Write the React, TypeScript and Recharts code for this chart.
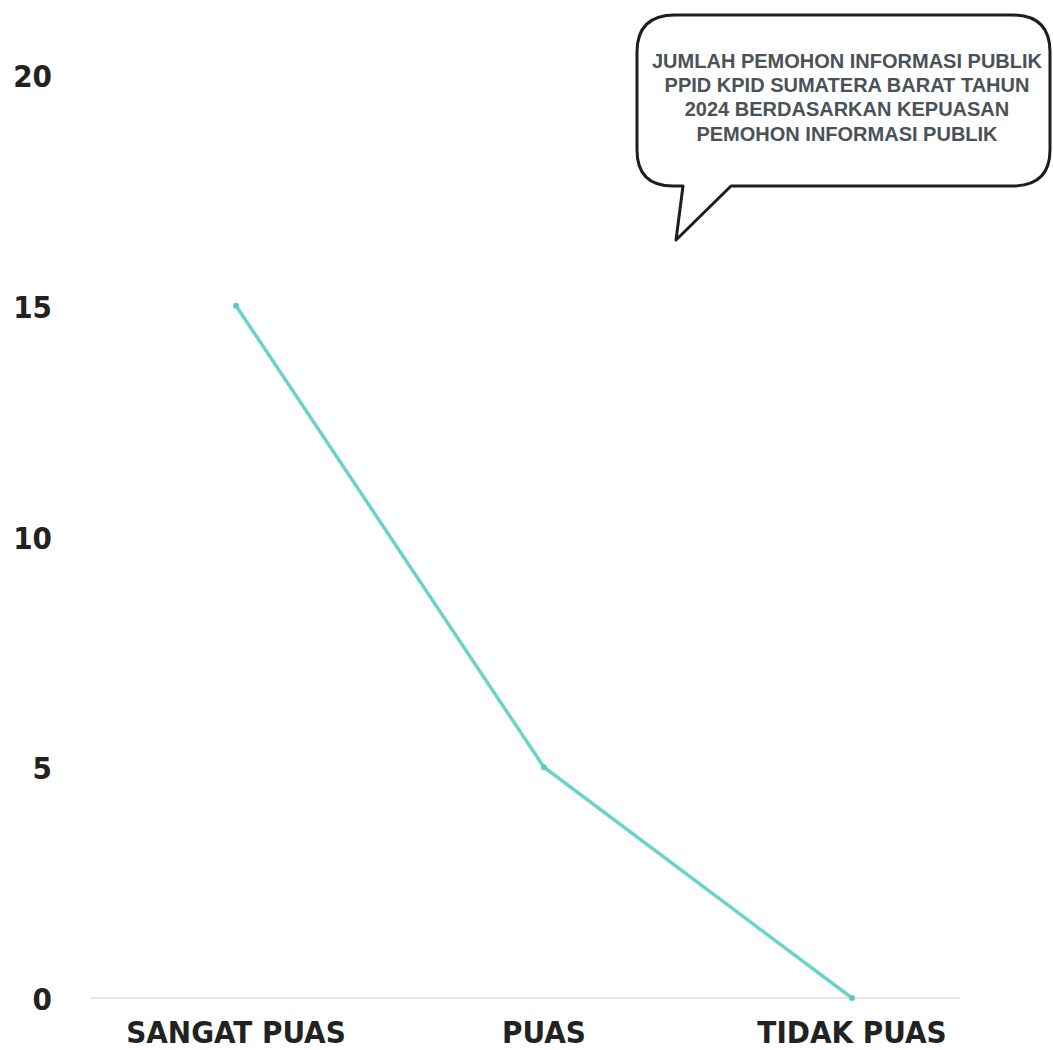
import { LineChart, Line, XAxis, YAxis, ReferenceLine } from 'recharts'

// Jumlah pemohon per tingkat kepuasan
const categories = ['SANGAT PUAS', 'PUAS', 'TIDAK PUAS']
const counts = [15, 5, 0]
const yTicks = [0, 5, 10, 15, 20]
const titleLines = [
    'JUMLAH PEMOHON INFORMASI PUBLIK',
    'PPID KPID SUMATERA BARAT TAHUN',
    '2024 BERDASARKAN KEPUASAN',
    'PEMOHON INFORMASI PUBLIK',
]

const data = categories.map((name, i) => ({ name, value: counts[i] }))

const W = 1053
const H = 1050
const LABEL_FONT = '"DejaVu Sans Condensed", "Liberation Sans Narrow", sans-serif'

function XTick({ x, y, payload }: any) {
    return (
        <text
            x={x}
            y={y + 45}
            textAnchor="middle"
            fontFamily={LABEL_FONT}
            fontWeight="bold"
            fontSize={31}
            fill="#222"
        >
            {payload.value}
        </text>
    )
}

function YTick({ x, y, payload }: any) {
    return (
        <text
            x={x - 38}
            y={y + 12}
            textAnchor="end"
            fontFamily={LABEL_FONT}
            fontWeight="bold"
            fontSize={31}
            fill="#222"
        >
            {payload.value}
        </text>
    )
}

// balon judul di kanan atas
function TitleBubble() {
    const path =
        'M 675 15 L 1012 15 Q 1050 15 1050 52 L 1050 150 Q 1050 186 1012 186 ' +
        'L 731 186 L 676 240 L 683 186 L 673 186 Q 637 186 637 150 L 637 52 Q 637 15 675 15 Z'
    return (
        <svg
            width={W}
            height={H}
            style={{ position: 'absolute', left: 0, top: 0, pointerEvents: 'none' }}
        >
            <path d={path} fill="#fff" stroke="#1e1e1e" strokeWidth={3} strokeLinejoin="round" />
            {titleLines.map((line, i) => (
                <text
                    key={line}
                    x={847}
                    y={68 + i * 24.2}
                    textAnchor="middle"
                    fontFamily='"Liberation Sans", Arial, sans-serif'
                    fontWeight="bold"
                    fontSize={20}
                    fill="#4a5258"
                >
                    {line}
                </text>
            ))}
        </svg>
    )
}

export default function App() {
    return (
        <div style={{ position: 'absolute', left: 0, top: 0, width: W, height: H, background: '#fff' }}>
            <LineChart
                width={W}
                height={H}
                data={data}
                margin={{ top: 75, right: 93, bottom: 0, left: 0 }}
            >
                <XAxis
                    dataKey="name"
                    axisLine={false}
                    tickLine={false}
                    tickSize={0}
                    tickMargin={0}
                    height={52}
                    padding={{ left: 146, right: 108 }}
                    interval={0}
                    tick={<XTick />}
                />
                <YAxis
                    domain={[0, 20]}
                    ticks={yTicks}
                    axisLine={false}
                    tickLine={false}
                    tickSize={0}
                    tickMargin={0}
                    width={90}
                    tick={<YTick />}
                />
                <ReferenceLine y={0} stroke="#e6e6e6" strokeWidth={2} />
                <Line
                    type="linear"
                    dataKey="value"
                    stroke="#6dd3c8"
                    strokeWidth={3.5}
                    dot={{ r: 3, fill: '#5ccbbf', stroke: 'none' }}
                    isAnimationActive={false}
                />
            </LineChart>
            <TitleBubble />
        </div>
    )
}
